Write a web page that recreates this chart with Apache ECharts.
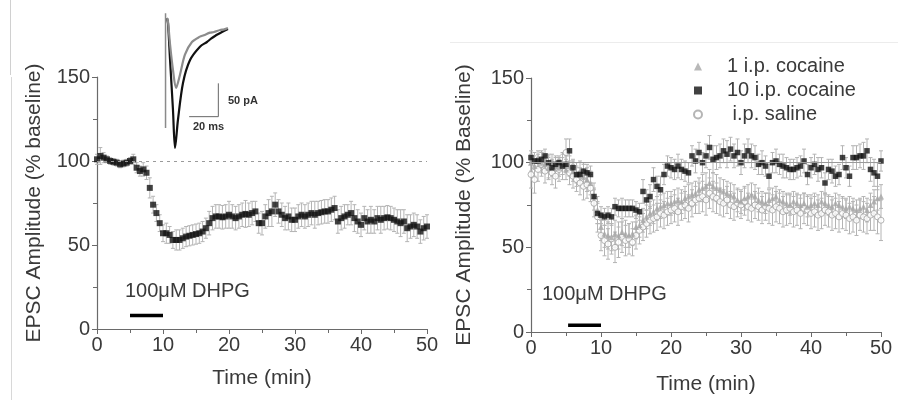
<!DOCTYPE html>
<html><head><meta charset="utf-8">
<script src="https://cdn.jsdelivr.net/npm/echarts@6/dist/echarts.min.js"></script>
<style>html,body{margin:0;padding:0;background:#fff}#c{width:898px;height:400px}</style>
</head><body><div id="c"></div>
<script>
// ---- DATA ----
const xTicks = [0, 10, 20, 30, 40, 50];
const yTicks = [0, 50, 100, 150];
const seriesNames = ['1 i.p. cocaine', '10 i.p. cocaine', ' i.p. saline'];

// Left panel: DHPG LTD, mean (% baseline) every 0.5 min, 0..50 min
const leftMean = [101,103,102,101,100,99.5,99,98,98.5,99,100,101,
  96,94,95,93,84,74,69,63,
  57,57,56,53,53,53,54,55,55.5,56,56.5,57,58,60,
  63,66,67,67,66.5,67,68,67,66,67,68,68.5,68,69,70,63,63,67,69,70,74,70,68,66,67,65,
  65,67,68,67,68,69,68,69,69.5,70,70,71,72,64,66,67,68,69,66,64,
  62,66,64,65,64,66,65,66,66.5,66,65,64,63,64,60,61,62,61,58,60,61];
const leftErr = [3,5,3,2,2,2,2,2,2,2,2,3,
  3,3,4,4,6,5,5,5,
  5,6,5,5,6,6,6,6,6,6,6,6,6,6,
  7,7,7,7,7,7,8,7,7,7,7,8,7,7,6,6,7,7,8,9,7,7,7,7,8,7,7,7,7,7,7,7,8,7,7,7,7,7,7,7,
  7,7,6,7,8,7,7,7,7,8,7,7,8,7,7,7,7,7,8,7,8,7,7,7,7,7,7];

// Right panel: every 0.5 min, 0..50 min
const cocaine1 = [100,98,102,100,99,97,100,98,97,99,96,98,95,93,94,92,90,88,80,72,
  62,58,57,56,58,57,59,58,57,58,62,63,66,68,70,71,73,74,75,76,
  76,77,78,77,79,80,81,82,84,85,86,88,86,85,84,83,82,81,80,78,
  77,79,80,81,80,78,77,76,78,79,80,78,77,76,75,77,76,75,76,74,
  75,76,75,77,76,75,74,76,75,74,73,74,73,72,73,74,72,75,77,79,80];
const cocaine1Err = [5,6,5,6,5,6,5,6,5,6,6,6,6,7,7,7,7,7,8,8,
  8,8,8,8,8,8,8,8,7,7,7,7,7,7,7,7,7,7,7,7,
  7,7,7,7,7,7,7,7,7,8,8,8,8,8,7,7,7,7,7,7,
  7,7,7,7,7,7,6,6,6,6,6,6,6,6,6,6,6,6,6,6,
  6,6,6,6,6,6,6,6,6,6,6,6,6,6,6,6,7,7,7,7,7];
const cocaine10 = [103,101,101,102,104,100,97,99,100,98,99,107,97,93,93,95,94,93,80,70,
  69,68,69,68,74,73,73,73,73,73,72,71,83,78,80,90,86,84,93,98,
  97,96,98,96,95,94,104,101,106,100,104,109,102,103,104,107,105,108,104,106,
  100,104,107,104,103,99,100,98,92,100,101,99,98,97,96,96,97,98,101,93,
  97,99,96,97,88,96,95,92,93,103,97,92,103,103,104,104,107,96,94,92,101];
const cocaine10Err = [4,5,4,5,4,5,5,4,4,5,5,7,5,5,4,5,5,5,5,6,
  5,5,5,5,5,5,6,5,5,5,5,5,7,6,7,7,6,8,6,6,
  6,6,7,6,6,6,6,7,6,6,7,7,8,7,7,7,8,7,7,8,
  7,7,7,7,7,6,7,6,7,6,7,6,7,6,6,6,6,6,7,6,
  6,6,7,6,6,6,7,6,6,7,6,6,7,7,7,8,7,7,8,8,6];
const saline = [93,90,96,99,95,97,94,92,96,98,106,94,92,90,88,86,87,85,76,68,
  57,54,52,55,50,53,56,54,55,53,57,60,62,64,66,67,68,70,69,71,
  72,73,71,74,75,73,76,78,79,80,78,82,80,79,77,76,78,75,74,76,
  75,77,74,73,75,74,72,74,73,72,74,73,71,72,73,71,72,70,73,72,
  70,71,69,70,72,71,69,70,68,70,69,67,68,66,69,68,67,69,70,68,66];
const salineErr = [8,8,7,7,7,7,7,7,7,8,8,7,7,7,7,8,8,8,8,9,
  9,9,9,9,9,9,9,9,9,8,8,8,8,8,8,8,8,8,8,8,
  8,8,8,8,8,8,8,8,9,9,9,9,9,9,8,8,8,8,8,8,
  8,8,8,8,8,8,8,8,9,9,9,9,9,9,9,9,9,9,9,9,
  9,9,9,9,9,9,9,9,9,9,9,9,9,9,9,9,9,9,10,10,12];

// DHPG application bars (min) and label
const dhpgLabel = '100\u03bcM DHPG';
const dhpgLeft = [[5, 8], [10, 8]];
const dhpgRight = [[5.3, 4], [10, 4]];

// Inset EPSC traces: [time (ms), current (pA)]
const traceBaseline = [[4.8,8],[5.5,2],[6.9,-32],[8.9,-70],[11,-97],[13.7,-77],[17.1,-47],[21.9,-28],[27.4,-20],[30,-18],[34.3,-14],[37,-13],[41.2,-10],[44,-9],[46.6,-7]];
const traceDHPG = [[4.8,8],[5.5,0],[6.9,-55],[8.9,-130],[10.3,-187],[12.3,-145],[15.8,-89],[20.6,-55],[27.4,-35],[32.2,-28],[35,-23],[37.7,-19],[40,-16],[42.5,-13],[46.6,-8.5]];
const artifact = [[3.8,15],[3.8,-157]];
const scaleBar = [[20,-140],[40,-140],[40,-90]];
const scaleLabels = ['50 pA', '20 ms'];

// ---- BUILD ----
const step = 0.5;
function withTime(vals, errs) {
  return vals.map((v, i) => [i * step, v, errs ? errs[i] : 0]);
}
function errRender(color) {
  return function (params, api) {
    const x = api.value(0), y = api.value(1), e = api.value(2);
    if (!e) return;
    const t = api.coord([x, y + e]);
    const b = api.coord([x, y - e]);
    const w = 2;
    const st = { stroke: color, lineWidth: 1 };
    return { type: 'group', children: [
      { type: 'line', shape: { x1: t[0], y1: t[1], x2: b[0], y2: b[1] }, style: st },
      { type: 'line', shape: { x1: t[0] - w, y1: t[1], x2: t[0] + w, y2: t[1] }, style: st },
      { type: 'line', shape: { x1: b[0] - w, y1: b[1], x2: b[0] + w, y2: b[1] }, style: st }
    ]};
  };
}
const FONT = '"Liberation Sans", Arial, sans-serif';
const axisCol = '#6a6a6a';
const txtCol = '#3a3a3a';
function makeX(gi, gap) {
  return {
    type: 'value', gridIndex: gi, min: 0, max: 50, interval: 10,
    name: 'Time (min)', nameLocation: 'middle', nameGap: gap,
    nameTextStyle: { fontFamily: FONT, fontSize: 21, color: txtCol },
    axisLine: { lineStyle: { color: axisCol, width: 1.2 } },
    axisTick: { show: true, length: 5, lineStyle: { color: axisCol } },
    minorTick: { show: true, splitNumber: 2, length: 4, lineStyle: { color: axisCol } },
    axisLabel: { fontFamily: FONT, fontSize: 20, color: txtCol, margin: 6,
      formatter: v => xTicks.includes(v) ? String(v) : '' },
    splitLine: { show: false }
  };
}
function makeY(gi, name, gap) {
  return {
    type: 'value', gridIndex: gi, min: 0, max: 150, interval: 50,
    name: name, nameLocation: 'middle', nameGap: gap,
    nameTextStyle: { fontFamily: FONT, fontSize: 21, color: txtCol },
    axisLine: { show: true, lineStyle: { color: axisCol, width: 1.2 } },
    axisTick: { show: true, length: 5, lineStyle: { color: axisCol } },
    minorTick: { show: true, splitNumber: 2, length: 4, lineStyle: { color: axisCol } },
    axisLabel: { fontFamily: FONT, fontSize: 20, color: txtCol, margin: 7,
      formatter: v => yTicks.includes(v) ? String(v) : '' },
    splitLine: { show: false }
  };
}

const chart = echarts.init(document.getElementById('c'), null, { renderer: 'canvas' });
const errCol = '#b4b4b4';
const option = {
  backgroundColor: '#fff',
  animation: false,
  grid: [
    { left: 97, top: 77, width: 330, height: 252 },
    { left: 531, top: 78, width: 350, height: 254 },
    { left: 160, top: 10, width: 70, height: 140 }
  ],
  xAxis: [makeX(0, 39), makeX(1, 42),
    { type: 'value', gridIndex: 2, min: 0, max: 48, show: false }],
  yAxis: [makeY(0, 'EPSC Amplitude (% baseline)', 52), makeY(1, 'EPSC Amplitude (% Baseline)', 56),
    { type: 'value', gridIndex: 2, min: -190, max: 20, show: false }],
  legend: {
    orient: 'vertical', left: 688, top: 51, itemWidth: 8, itemHeight: 8, itemGap: 3,
    data: [
      { name: seriesNames[0], icon: 'triangle' },
      { name: seriesNames[1], icon: 'rect' },
      { name: seriesNames[2], icon: 'circle' }
    ],
    textStyle: { fontFamily: FONT, fontSize: 20, color: txtCol, lineHeight: 21, padding: [0, 0, 0, 20] }
  },
  graphic: [
    { type: 'line', shape: { x1: 10.5, y1: 0, x2: 10.5, y2: 75 }, style: { stroke: '#d0d0d0', lineWidth: 1 } },
    { type: 'line', shape: { x1: 11.5, y1: 77, x2: 11.5, y2: 400 }, style: { stroke: '#d8d8d8', lineWidth: 1 } },
    { type: 'line', shape: { x1: 450, y1: 42.5, x2: 898, y2: 42.5 }, style: { stroke: '#ececec', lineWidth: 1 } },
    { type: 'text', left: 125, top: 281, style: { text: dhpgLabel, font: '20px ' + FONT, fill: txtCol } },
    { type: 'text', left: 542, top: 284, style: { text: dhpgLabel, font: '20px ' + FONT, fill: txtCol } },
    { type: 'text', left: 228, top: 95, style: { text: scaleLabels[0], font: 'bold 11px ' + FONT, fill: '#333' } },
    { type: 'text', left: 193, top: 121, style: { text: scaleLabels[1], font: 'bold 11px ' + FONT, fill: '#333' } }
  ],
  series: [
    // ---- left panel ----
    { type: 'custom', xAxisIndex: 0, yAxisIndex: 0, renderItem: errRender(errCol),
      data: withTime(leftMean, leftErr), z: 1, silent: true },
    { type: 'scatter', xAxisIndex: 0, yAxisIndex: 0, symbol: 'rect', symbolSize: 6,
      itemStyle: { color: '#111' }, data: withTime(leftMean).map(d => [d[0], d[1]]), z: 3,
      markLine: { silent: true, symbol: 'none', label: { show: false },
        lineStyle: { type: [3, 4], color: '#9a9a9a', width: 1 }, data: [{ yAxis: 100 }] } },
    { type: 'line', xAxisIndex: 0, yAxisIndex: 0, data: dhpgLeft, showSymbol: false,
      lineStyle: { color: '#000', width: 3.5 }, z: 4 },
    // ---- right panel ----
    { type: 'custom', xAxisIndex: 1, yAxisIndex: 1, renderItem: errRender(errCol),
      data: withTime(saline, salineErr), z: 1, silent: true },
    { type: 'custom', xAxisIndex: 1, yAxisIndex: 1, renderItem: errRender(errCol),
      data: withTime(cocaine1, cocaine1Err), z: 1, silent: true },
    { type: 'custom', xAxisIndex: 1, yAxisIndex: 1, renderItem: errRender(errCol),
      data: withTime(cocaine10, cocaine10Err), z: 1, silent: true },
    { name: seriesNames[2], type: 'scatter', xAxisIndex: 1, yAxisIndex: 1, symbol: 'circle', symbolSize: 6,
      itemStyle: { color: '#fff', borderColor: '#a2a2a2', borderWidth: 1 },
      data: withTime(saline).map(d => [d[0], d[1]]), z: 2,
      markLine: { silent: true, symbol: 'none', label: { show: false },
        lineStyle: { type: 'solid', color: '#9a9a9a', width: 1 }, data: [{ yAxis: 100 }] } },
    { name: seriesNames[0], type: 'scatter', xAxisIndex: 1, yAxisIndex: 1, symbol: 'triangle', symbolSize: 6,
      itemStyle: { color: '#a6a6a6' }, data: withTime(cocaine1).map(d => [d[0], d[1]]), z: 2 },
    { name: seriesNames[1], type: 'scatter', xAxisIndex: 1, yAxisIndex: 1, symbol: 'rect', symbolSize: 5.5,
      itemStyle: { color: '#111' }, data: withTime(cocaine10).map(d => [d[0], d[1]]), z: 3 },
    { type: 'line', xAxisIndex: 1, yAxisIndex: 1, data: dhpgRight, showSymbol: false,
      lineStyle: { color: '#000', width: 3.5 }, z: 4 },
    // ---- inset traces ----
    { type: 'line', xAxisIndex: 2, yAxisIndex: 2, data: artifact, showSymbol: false,
      lineStyle: { color: '#8a8a8a', width: 1.5 } },
    { type: 'line', xAxisIndex: 2, yAxisIndex: 2, data: traceDHPG, showSymbol: false, smooth: 0.3,
      lineStyle: { color: '#111', width: 2.2 } },
    { type: 'line', xAxisIndex: 2, yAxisIndex: 2, data: traceBaseline, showSymbol: false, smooth: 0.3,
      lineStyle: { color: '#8c8c8c', width: 2.2 } },
    { type: 'line', xAxisIndex: 2, yAxisIndex: 2, data: scaleBar, showSymbol: false,
      lineStyle: { color: '#666', width: 1 } }
  ]
};
chart.setOption(option);
</script>
</body></html>
